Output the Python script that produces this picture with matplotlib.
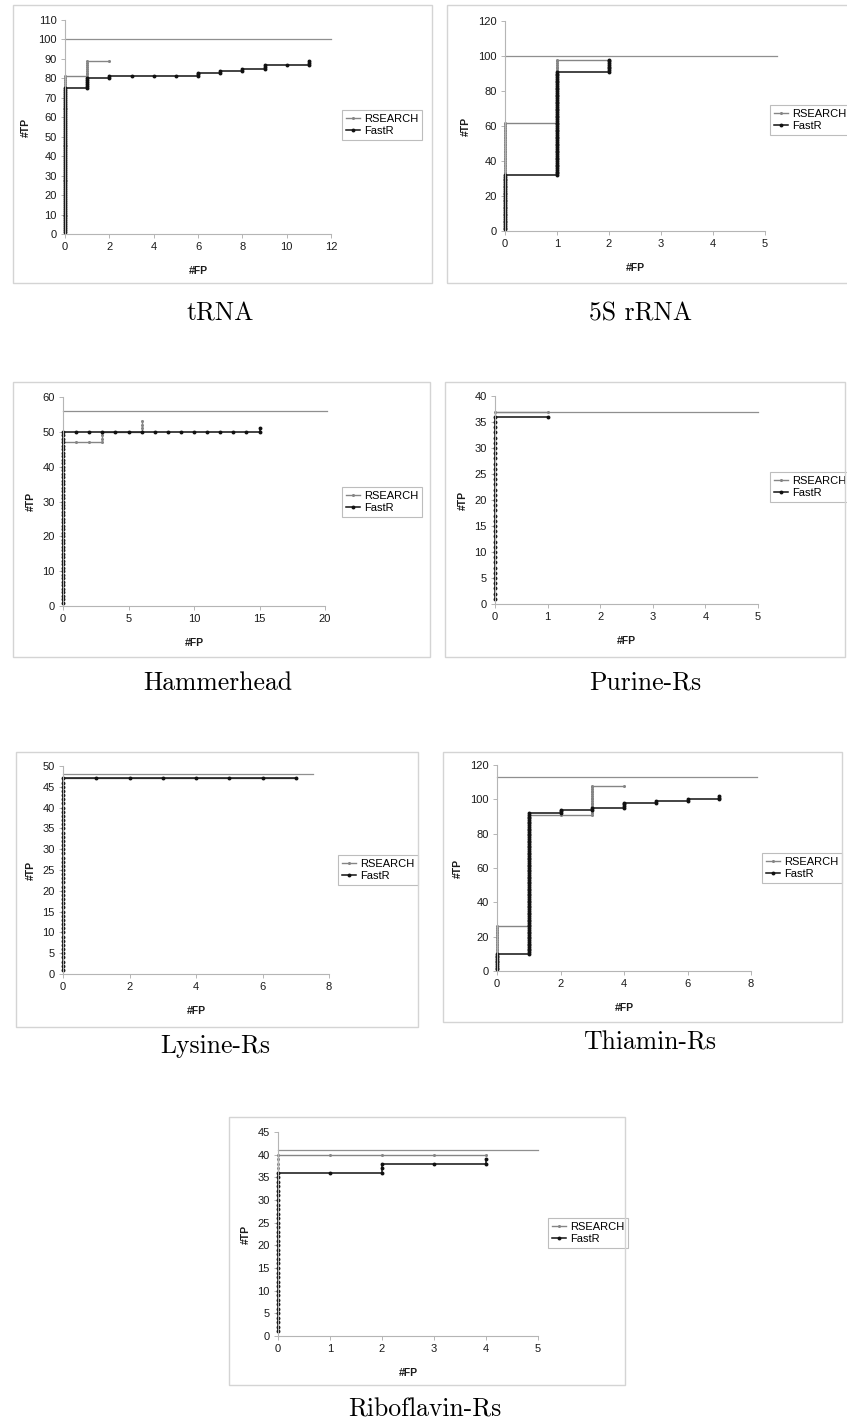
import matplotlib
matplotlib.use("Agg")
import matplotlib.pyplot as plt
from matplotlib.patches import Rectangle

W, H = 847, 1424

# TP reached at each FP level, per family and method
trna_rs_fp = [0, 1, 2]
trna_rs_tp = [81, 89, 89]
trna_fr_fp = [0, 1, 2, 3, 4, 5, 6, 7, 8, 9, 10, 11]
trna_fr_tp = [75, 80, 81, 81, 81, 81, 83, 84, 85, 87, 87, 89]
trna_total = 100

rrna_rs_fp = [0, 1, 2]
rrna_rs_tp = [62, 98, 98]
rrna_fr_fp = [0, 1, 2]
rrna_fr_tp = [32, 91, 98]
rrna_total = 100

hamm_rs_fp = [0, 1, 2, 3, 4, 5, 6]
hamm_rs_tp = [47, 47, 47, 50, 50, 50, 53]
hamm_fr_fp = [0, 1, 2, 3, 4, 5, 6, 7, 8, 9, 10, 11, 12, 13, 14, 15]
hamm_fr_tp = [50, 50, 50, 50, 50, 50, 50, 50, 50, 50, 50, 50, 50, 50, 50, 51]
hamm_total = 56

puri_rs_fp = [0, 1]
puri_rs_tp = [37, 37]
puri_fr_fp = [0, 1]
puri_fr_tp = [36, 36]
puri_total = 37

lysi_rs_fp = [0, 1, 2, 3, 4, 5, 6, 7]
lysi_rs_tp = [47, 47, 47, 47, 47, 47, 47, 47]
lysi_fr_fp = [0, 1, 2, 3, 4, 5, 6, 7]
lysi_fr_tp = [47, 47, 47, 47, 47, 47, 47, 47]
lysi_total = 48

thia_rs_fp = [0, 1, 2, 3, 4]
thia_rs_tp = [26, 91, 91, 108, 108]
thia_fr_fp = [0, 1, 2, 3, 4, 5, 6, 7]
thia_fr_tp = [10, 92, 94, 95, 98, 99, 100, 102]
thia_total = 113

ribo_rs_fp = [0, 1, 2, 3, 4]
ribo_rs_tp = [40, 40, 40, 40, 40]
ribo_fr_fp = [0, 1, 2, 3, 4]
ribo_fr_tp = [36, 36, 38, 38, 39]
ribo_total = 41

names = ["tRNA", "5S rRNA", "Hammerhead", "Purine-Rs", "Lysine-Rs", "Thiamin-Rs", "Riboflavin-Rs"]
series = [
    (trna_rs_fp, trna_rs_tp, trna_fr_fp, trna_fr_tp, trna_total),
    (rrna_rs_fp, rrna_rs_tp, rrna_fr_fp, rrna_fr_tp, rrna_total),
    (hamm_rs_fp, hamm_rs_tp, hamm_fr_fp, hamm_fr_tp, hamm_total),
    (puri_rs_fp, puri_rs_tp, puri_fr_fp, puri_fr_tp, puri_total),
    (lysi_rs_fp, lysi_rs_tp, lysi_fr_fp, lysi_fr_tp, lysi_total),
    (thia_rs_fp, thia_rs_tp, thia_fr_fp, thia_fr_tp, thia_total),
    (ribo_rs_fp, ribo_rs_tp, ribo_fr_fp, ribo_fr_tp, ribo_total),
]

# layout in pixels: axes (left, right, bottom, top), xlim/xstep, ylim/ystep,
# chart box (x0, x1, y0, y1), legend (left, center y), caption (x, y), end of total line
layout = [
    dict(ax=(65, 331, 234, 20), x=(12, 2), y=(110, 10), box=(13, 432, 5, 283), leg=(342, 125), cap=(220, 314), tend=12),
    dict(ax=(505, 765, 231, 21), x=(5, 1), y=(120, 20), box=(447, 852, 5, 283), leg=(770, 120), cap=(640, 314), tend=5.23),
    dict(ax=(63, 325, 606, 397), x=(20, 5), y=(60, 10), box=(13, 430, 382, 657), leg=(342, 502), cap=(218, 683), tend=20.15),
    dict(ax=(495, 758, 604, 396), x=(5, 1), y=(40, 5), box=(445, 845, 382, 657), leg=(770, 487), cap=(645, 683), tend=5),
    dict(ax=(63, 329, 974, 766), x=(8, 2), y=(50, 5), box=(16, 418, 752, 1027), leg=(338, 870), cap=(215, 1046), tend=7.52),
    dict(ax=(497, 751, 971, 765), x=(8, 2), y=(120, 20), box=(443, 842, 752, 1022), leg=(762, 868), cap=(650, 1043), tend=8.19),
    dict(ax=(278, 538, 1336, 1132), x=(5, 1), y=(45, 5), box=(229, 625, 1117, 1385), leg=(548, 1233), cap=(425, 1410), tend=5),
]


def staircase(fps, tps, start=1):
    xs, ys = [], []
    cur = start
    for fp, tp in zip(fps, tps):
        for t in range(cur, tp + 1):
            xs.append(fp)
            ys.append(t)
        cur = tp
    return xs, ys


plt.rcParams['font.family'] = ['Liberation Sans', 'DejaVu Sans']
fig = plt.figure(figsize=(W / 100, H / 100), dpi=100)

axis_grey = '#b5b5b5'
for name, (rs_fp, rs_tp, fr_fp, fr_tp, total), lay in zip(names, series, layout):
    bx0, bx1, by0, by1 = lay['box']
    fig.patches.append(Rectangle((bx0 / W, 1 - by1 / H), (bx1 - bx0) / W, (by1 - by0) / H,
                                 transform=fig.transFigure, fill=False, edgecolor='#d4d4d4', lw=1.0))
    l, r, b, t = lay['ax']
    ax = fig.add_axes([l / W, 1 - b / H, (r - l) / W, (b - t) / H])
    ax.patch.set_visible(False)

    xmax, xstep = lay['x']
    ymax, ystep = lay['y']
    ax.plot([0, lay['tend']], [total, total], color='#8f8f8f', lw=0.9, clip_on=False)
    xs, ys = staircase(rs_fp, rs_tp)
    ax.plot(xs, ys, color='#858585', lw=1.0, marker='o', ms=2.2, mew=0, label='RSEARCH', clip_on=False)
    xs, ys = staircase(fr_fp, fr_tp)
    ax.plot(xs, ys, color='#111111', lw=1.1, marker='o', ms=2.8, mew=0, label='FastR', clip_on=False)

    ax.set_xlim(0, xmax)
    ax.set_ylim(0, ymax)
    ax.set_xticks(range(0, xmax + 1, xstep))
    ax.set_yticks(range(0, ymax + 1, ystep))
    for s in ['top', 'right']:
        ax.spines[s].set_visible(False)
    for s in ['left', 'bottom']:
        ax.spines[s].set_color(axis_grey)
        ax.spines[s].set_linewidth(0.8)
    ax.tick_params(direction='out', length=3, width=0.7, color=axis_grey, labelsize=8,
                   labelcolor='#1a1a1a', pad=3)
    ax.set_xlabel('#FP', fontsize=7.5, fontweight='bold', labelpad=10, color='#1a1a1a')
    ax.set_ylabel('#TP', fontsize=7.5, fontweight='bold', labelpad=5, color='#1a1a1a')

    lx, ly = lay['leg']
    leg = ax.legend(loc='center left', bbox_to_anchor=(lx / W, 1 - ly / H), bbox_transform=fig.transFigure,
                    fontsize=8, frameon=True, fancybox=False, edgecolor='#bdbdbd', framealpha=1,
                    handlelength=1.3, handletextpad=0.3, borderpad=0.35, labelspacing=0.2, borderaxespad=0)
    leg.get_frame().set_linewidth(0.8)

    cx, cy = lay['cap']
    fig.text(cx / W, 1 - cy / H, name, family='cmr10', fontsize=18.5, ha='center', va='center')

fig.savefig('out.png', dpi=100)
